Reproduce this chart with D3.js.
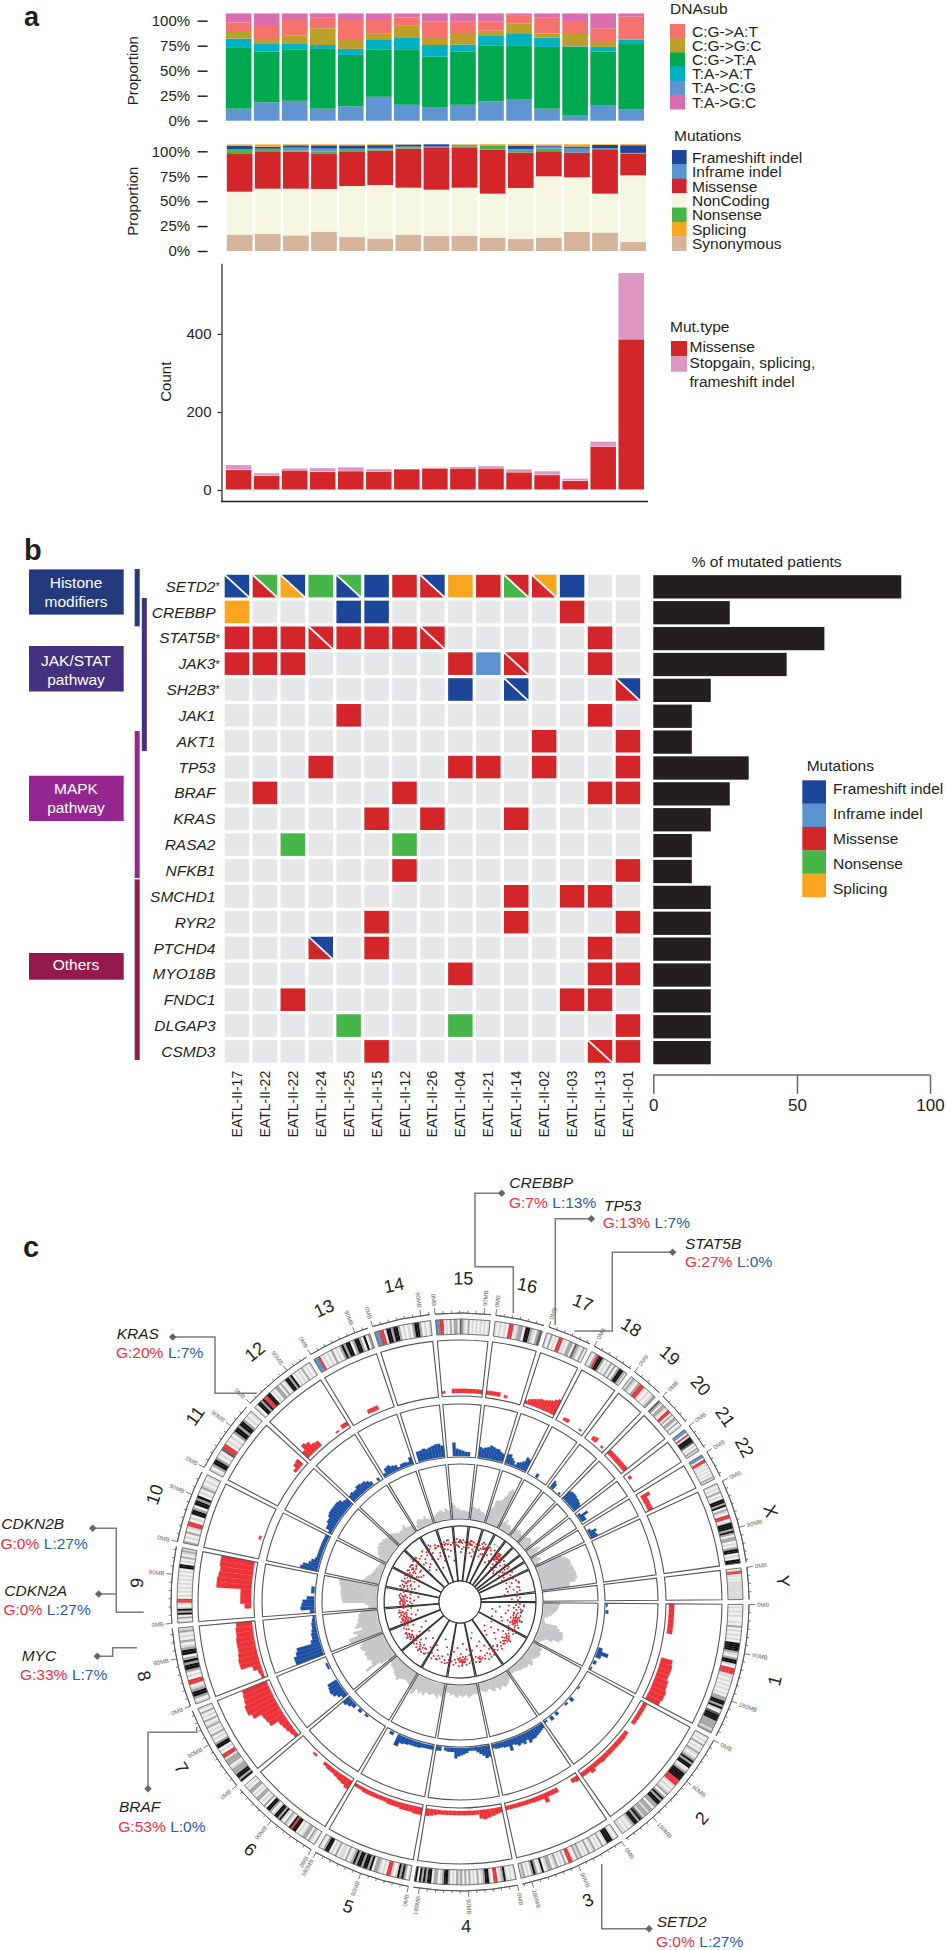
<!DOCTYPE html>
<html><head><meta charset="utf-8">
<script src="https://cdn.jsdelivr.net/npm/d3@7"></script>
<style>html,body{margin:0;padding:0;background:#fff}svg{display:block;font-family:"Liberation Sans",Arial,sans-serif}</style>
</head><body><div id="c"></div>
<script>
const _ = null;
// ---------- panel a ----------
const samples = d3.range(15);
const dnaLabels = ["C:G->A:T","C:G->G:C","C:G->T:A","T:A->A:T","T:A->C:G","T:A->G:C"];
const dnaTA_CG = [12,18.3,19.9,12,14.3,23.9,15.9,13.6,15.9,19.3,21.6,12,5.6,15,11.6];
const dnaCG_TA = [60.8,50.8,51.5,59.8,51.5,47.5,54.9,50.5,53.2,56.1,53.2,61.8,68.2,54.1,65.1];
const dnaTA_AT = [9.3,7.6,5.3,3.9,6,9.3,11.9,11.6,7,9.3,11.9,9.3,.6,4.7,4];
const dnaCG_GC = [6.6,5,8.3,16.7,8.9,6.7,12.3,8,10.6,5.3,10.3,4.3,13.3,5.9,.7];
const dnaCG_AT = [9.6,14,15.7,10.6,20,14.3,8.3,15.3,12.3,9,8.6,15.6,12,12.7,22.6];
const dnaTA_GC = [9,11.6,6.6,4.3,6.6,5.6,4,8.3,8.3,8.3,1.7,4.3,7.6,14.9,3.3];
const dnaColors = ["#f6736d","#bda02c","#00a84f","#00b1c1","#6195d2","#da6fb0"];

const mutLabels = ["Frameshift indel","Inframe indel","Missense","NonCoding","Nonsense","Splicing","Synonymous"];
const mutSyn = [16.4,17.1,15.7,19.4,14,12.4,16.4,15,15.4,13.4,12,13.4,19.1,18.4,9];
const mutNon = [43.1,45.4,46.8,42.8,51.2,53.8,47.1,46.5,48.1,44.1,51.2,61.5,54.8,39.1,66.9];
const mutMis = [37.8,36.8,37.2,35.8,34.1,34.5,39.2,41.8,39.8,44.2,35.5,24.4,24.8,43.8,21.8];
const mutNons = [4,2,1.3,1.7,2,1,1,1,1.7,4,1.7,3.3,0,1,.7];
const mutInf = [1,1.3,2.7,3,1.3,1.7,1,.7,.3,.7,2,2,4.7,1,0];
const mutFs = [3.3,2,2.3,3.3,3.3,2.7,2,2,.7,0,3,1,1.3,3,7.7];
const mutSpl = [1.3,2.3,1,1,1,1,.3,0,1,.7,1.7,1.3,2.3,.7,1];
const mutColors = ["#1c469a","#5b93cf","#d2262b","#f5f6df","#47b649","#f9a51f","#d4b59b"];

const countMissense = [51,36,50,46,48,47,53,55,55,55,45,38,23,111,386];
const countStop = [13,7,5,10,10,6,1,2,4,6,8,10,6,13,170];

// ---------- panel b ----------
const patients = ["EATL-II-17","EATL-II-22","EATL-II-22","EATL-II-24","EATL-II-25","EATL-II-15","EATL-II-12","EATL-II-26","EATL-II-04","EATL-II-21","EATL-II-14","EATL-II-02","EATL-II-03","EATL-II-13","EATL-II-01"];
const genes = ["SETD2","CREBBP","STAT5B","JAK3","SH2B3","JAK1","AKT1","TP53","BRAF","KRAS","RASA2","NFKB1","SMCHD1","RYR2","PTCHD4","MYO18B","FNDC1","DLGAP3","CSMD3"];
const starred = ["SETD2","STAT5B","JAK3","SH2B3"];
const matrix = [
 "FF MN SF N FN F M MF S M NM MS F . .",
 "S . . . F F . . . . . . M . .",
 "M M M MM M M M MM . . . . . M .",
 "M M M . . . . . M I MM . . M .",
 ". . . . . . . . F . FF . . . MF",
 ". . . . M . . . . . . . . M .",
 ". . . . . . . . . . . M . . M",
 ". . . M . . . . M M . M . . M",
 ". M . . . . M . . . . . . M M",
 ". . . . . M . M . . M . . . .",
 ". . N . . . N . . . . . . . .",
 ". . . . . . M . . . . . . . M",
 ". . . . . . . . . . M . M M .",
 ". . . . . M . . . . M . . . M",
 ". . . MF . M . . . . . . . M .",
 ". . . . . . . . M . . . . M M",
 ". . M . . . . . . . . . M M .",
 ". . . . N . . . N . . . . . M",
 ". . . . . M . . . . . . . MM M"];
const pctMutated = [89.2,26.6,60.3,46.4,20,13.4,13.4,33.2,26.6,20,13.4,13.4,20,20,20,20,20,20,20];
const pctTicks = [0,50,100];
const oncoLegend = ["Frameshift indel","Inframe indel","Missense","Nonsense","Splicing"];
const oncoKeys = ["F","I","M","N","S"];
const oncoColors = ["#1c469a","#5b93cf","#d2262b","#47b649","#f9a51f"];
const pathways = [["Histone","modifiers"],["JAK/STAT","pathway"],["MAPK","pathway"],["Others"]];
const pathwayColors = ["#243a7d","#43317f","#93278f","#931b4b"];

// ---------- panel c ----------
const chrNames = ["1","2","3","4","5","6","7","8","9","10","11","12","13","14","15","16","17","18","19","20","21","22","X","Y"];
const chrMb = [249,243,198,191,181,171,159,146,141,135,135,133,115,107,102,90,81,78,59,63,48,51,155,59];
const ideograms = [
 ".l.l.l..l.g.l.l.l.kkkkgl.gkkl.rrrll.l.l.l.l.ggkkgkl.dkkkgggglg",
 "l.l.g.l.gl.lgkgkk.lgkkkkrrrl.l.lg.gkgkkgg.gglggldkgkkgl.l.ll",
 "l.lkkkl.g.l.gl.g.l.glg.lrr.g.l.gl.ggl.kl.gkg.l.gl",
 "l.l.lkgl.rr.lkkgl.g.l.g.g.glg.l.gkkgl.gg.kkgkgk.k",
 "l.gkgkl.lrr.l.lgg.kgkkgkkgkgl.g.ll.g.l.kkg.l",
 "l.lg.ggl.l.kkrk.lg.lkgkkl.gkk.g.l.gg.l.gg.l.",
 "kgkkgggl.ggg.rr.l.kkg.l.g.l.gl.g.l.g.l",
 "l.gkkgl.rr.l.gkkgkg.kkgl.g.l.gl",
 "l.g.kgkl.lrr.l.l.l.l.l.l.l.kk.l.g.lgl",
 "g.l.g.lrr.l.kkg.kkgk.l.gl.l.l",
 "l.gkkg.l.drr.l.l.gkkgkkg.l.l",
 "l.kkgkrrkk.l.gg.g.lkkgk.l.l.g.l.l",
 "bbr.l.l.g.l.gkgkk.gkkg.k.g",
 "bbrr.kkgkkg.l.l.gkkg.l.l",
 "bbrr.l.g.gg.dgl.g.l.l.l.l.l",
 "l.l.l.rr.lgg.kkgl.gd",
 "l.g.l.rr.l.gg.dgl.g.",
 "l.grkkg.l.g.g.gkkgl",
 "lgl.grrl.l.lg",
 "dg.ggl.rr.g.gg.g.l",
 "bb.r.kkkd.l.gl",
 "bb.rr.l.l.l.l.gl",
 "l.l.g.l.kkgk.gl.rr.lkkkgkg.gg.l.gkk.l.kk",
 ".lrr.l.l.lllllllllllll"];
const redTrack = [
 [10,10,10,10,10,10,_,_,_,_,_,22,24,24,23,26,27,30,30,28],
 [8,8,8,8,8,_,_,8,9,9,9,9,9,9,10,9,9,14,9,9],
 [10,8,_,_,_,_,9,9,9,18,9,9,9,8,8,8,8,8,8,8],
 [10,12,14,16,18,16,8,8,8,8,8,8,8,8,8,8,8,10,12,14],
 [14,14,12,12,12,10,10,10,8,8,8,8,8,8,6,6],
 [18,14,12,10,8,8,6,_,_,4,_,_,_,_],
 [8,10,12,14,16,32,34,36,52,58,58,54,52,50],
 [6,8,16,38,38,36,34,34,34,32,32,30],
 [_,_,12,20,20,20,66,66,64,62,64,64],
 [_,_,_,_,_,4,_,_,_,_,_,_,_,_],
 [_,_,_,_,_,_,_,_,_,_,6,12,14,_],
 [16,26,22,14,12,_,_,_,_,_,3,_,8,8],
 [_,_,_,_,_,8,8,8,_,_,_,_],
 [_,_,_,_,_,_,_,_,_,_],
 [5,_,_,8,8,8,8,8,8,8,8,8],
 [8,8,8,8,_,5,_,_,_,_],
 [6,10,12,14,16,18,18,20,22,24,28,32],
 [_,_,6,7,_,_,_,_,3,_],
 [_,_,8,10,_,_,4,_],
 [10,10,10,10,10,10,10,10],
 [_,6,_,_,_,_],
 [_,18,10,10,10,10],
 [_],[_]];
const blueTrack = [
 [3,_,5,_,_,_,_,_,_,_,_,_,_,8,22,10,_,6,_,3],
 [_,_,_,_,_,2,_,_,_,8,_,4,_,_,_,6,_,8,_,4],
 [10,12,14,16,18,18,22,14,20,16,18,14,12,22,12,12,10,10,10,8],
 [22,24,18,14,10,6,6,6,10,12,14,16,20,8,8,8,6,_,8,8],
 [8,8,8,10,10,10,12,14,22,_,6,_],
 [_,_,_,_,_,4,_,6,_,8,12,16],
 [10,16,22,24,22,20,_,_,_,_,4,4,_,_],
 [56,56,50,46,16,12,12,10,8,8,6,4],
 [8,26,24,22,14,_,6,6,_,_,_,_],
 [34,30,20,16,10,8,8,8,8,8,8,8,8,8],
 [6,14,14,18,18,22,24,24,24,24,24,22,16,14],
 [14,16,14,14,18,18,16,16,12,8,_,_,6,_],
 [6,14,16,12,10,4,8,8,6,14],
 [_,20,20,22,20,22,24,26,26,22],
 [_,_,26,14,12,10,8,8,_,_],
 [20,18,20,22,26,24,22,22,18,16],
 [18,20,14,10,4,10,12,16,26,24],
 [_,_,_,8,_,_,_,_],
 [_,16,12,_,_,_,4,_],
 [20,22,22,22,20,20,18,16],
 [_,6,20,10,10,_],
 [_,_,6,16,12,14],
 [_],[_]];
const greyTrack = [
 [30,28,26,24,20,16,10,4,4,6,30,36,44,46,46,42,30,16,12,8],
 [16,20,18,22,22,20,18,14,20,22,16,18,16,14,14,12,10,8,8,8],
 [10,14,18,20,22,22,18,20,24,18,16,22,20,16,14,16,18,16,14,12],
 [18,18,16,18,20,22,20,16,18,20,18,16,22,20,16,16,18,14,14,12],
 [24,22,20,28,24,20,22,24,26,24,22,30,28,24,30,26,24,34,38,30],
 [24,22,20,22,24,30,26,24,20,18,18,14],
 [14,30,60,44,40,44,46,44,46,42,46,48,44,40],
 [60,62,44,50,32,44,40,36,36,34,34,30],
 [14,14,20,62,64,64,66,66,66,68,70,72],
 [30,26,24,22,18,16,14,14,12,12,10,10,8,8],
 [14,16,20,22,24,28,26,30,28,26,28,26,24,24],
 [26,24,20,18,16,14,16,14,18,22,14,14,12,12],
 [_,8,14,16,14,12,16,10,8,8],
 [8,12,14,16,18,16,14,20,16,14],
 [28,24,18,18,14,14,14,14,12,12],
 [22,22,20,20,22,18,16,16,14,10],
 [26,30,44,46,46,50,58,70,76,72],
 [12,14,20,12,14,14,10,8],
 [14,16,14,18,16,14,12,10],
 [14,16,18,20,20,18,14,10],
 [8,14,20,24,16,8],
 [6,10,14,14,8,6],
 [50,56,60,62,62,62,64,64,66,66,66,62,50,50],
 [_]];
// rainfall points: [degrees clockwise from east, distance level]
const dotsRed = [[2,60],[3,56],[4,64],[5,59],[6,54],[7,61],[8,57],[9,62],[10,49],[11,59],[12,55],[13,62],[14,47],[15,58],[16,60],[17,53],[18,63],[19,56],[20,59],[21,51],[22,62],[23,57],[24,46],[25,60],[26,54],[27,61],[7,40],[15,37],[20,44],[24,35],[4,49],[12,33],[17,62],[18,58],[19,60],[21,56],[22,54],[16,56],[14,55],
[29,60],[30,56],[31,62],[33,58],[34,52],[35,60],[36,47],[37,58],[38,62],[40,55],[41,59],[42,46],[43,61],[45,57],[46,51],[47,60],[48,63],[50,58],[51,42],[52,61],[53,55],[54,59],[32,37],[39,40],[44,34],[49,38],
[56,59],[57,63],[58,55],[60,60],[61,50],[62,58],[63,64],[64,44],[65,59],[66,62],[67,53],[68,60],[69,47],[70,58],[71,63],[72,59],[73,38],[74,57],[75,62],[76,50],[77,59],
[79,60],[80,54],[81,62],[82,48],[83,58],[84,63],[85,60],[86,42],[87,55],[88,62],[89,52],[90,60],[91,64],[92,57],[93,46],[94,61],[95,58],[96,63],[97,50],[98,60],[84,55],[90,56],[86,60],[88,58],
[101,59],[102,62],[103,54],[105,60],[106,47],[107,63],[108,57],[110,60],[111,40],[112,58],[113,62],[115,53],[116,60],[117,63],[118,49],[119,58],
[122,60],[123,54],[124,62],[126,58],[127,45],[128,63],[129,59],[130,56],[131,62],[132,60],[133,50],[134,63],[135,57],[136,60],[137,42],[138,62],[139,58],[127,58],[130,62],[133,58],[136,54],
[141,60],[142,55],[143,62],[144,50],[145,58],[146,63],[147,46],[148,60],[149,56],[150,62],[151,39],[152,58],[153,60],[154,52],[155,62],[156,57],[157,60],
[159,60],[160,52],[161,62],[162,57],[163,60],[164,46],[165,58],[166,62],[167,55],[168,60],[169,43],[170,58],[171,53],[172,61],[173,49],[174,57],[160,56],[162,52],[164,56],[166,50],[161,58],[163,54],
[176,58],[177,52],[178,60],[179,55],[180,50],[181,59],[182,46],[183,56],[184,60],[185,53],[186,58],[187,42],[188,60],[189,50],[190,57],[178,48],[181,53],[184,50],[187,55],
[193,60],[194,54],[195,58],[196,47],[197,60],[198,52],[199,57],[200,60],[201,44],[202,56],[203,60],[204,50],[205,58],[206,55],[195,50],[199,52],[203,54],
[208,60],[209,55],[210,58],[211,48],[212,60],[213,53],[214,58],[215,61],[216,45],[217,55],[218,60],[219,50],[220,57],[221,62],[210,50],[213,46],[217,50],[219,56],
[224,58],[225,62],[226,52],[227,59],[229,46],[230,60],[231,55],[233,63],[234,40],[235,57],[236,60],[237,51],[229,52],[226,44],[232,48],
[240,61],[241,56],[242,63],[243,48],[245,59],[246,62],[248,53],[249,60],[250,44],[251,58],[244,38],[247,50],
[253,60],[254,55],[255,62],[256,47],[258,59],[259,63],[260,52],[261,58],[262,42],[263,60],[257,54],
[266,60],[267,63],[268,56],[269,60],[270,62],[271,50],[272,59],[273,62],[274,55],[275,60],[269,55],[272,53],[267,57],
[278,60],[279,55],[280,62],[281,50],[282,58],[283,61],[284,47],[285,57],[286,60],[281,58],[283,54],[279,60],[285,52],
[289,60],[290,55],[291,62],[292,49],[293,58],[294,63],[295,53],[296,60],[291,57],[293,52],
[299,62],[300,54],[301,60],[302,47],[303,57],[304,62],[305,50],
[308,60],[309,54],[310,62],[311,57],[312,46],[313,60],[309,58],[311,62],[310,56],[312,54],[311,50],
[315,56],[316,50],[317,60],[318,54],[319,44],[320,58],[321,48],[317,46],
[323,50],[324,55],[325,58],[326,47],[327,53],[325,52],[324,60],
[329,55],[330,60],[331,50],[332,57],[333,47],[334,54],
[336,58],[338,50],[339,60],[340,55],[342,62],[343,52],[345,59],[346,61],[347,55],[348,49],[350,58],[351,45],[344,48],
[354,57],[356,60],[357,52],[358,58],
// denser clumps seen in the picture
[16,58],[17,56],[18,60],[19,58],[20,61],[20,56],[21,59],[22,58],[23,60],[15,61],[13,58],[11,55],
[36,58],[37,61],[38,59],[39,57],[40,60],[35,56],[42,58],[44,60],
[70,61],[71,60],[85,57],[86,58],[87,60],[88,60],[89,59],[91,58],
[143,58],[144,60],[145,61],[146,58],[147,60],[142,59],[148,62],
[161,55],[162,60],[163,57],[164,60],[165,55],[166,58],[167,60],[168,57],[169,55],[170,60],[159,56],[160,59],
[180,57],[181,56],[182,58],[183,59],[178,57],[177,56],[185,57],[186,55],
[196,58],[197,55],[200,58],[201,56],[208,57],[209,58],[212,55],[214,55],[215,57],[216,58],
[246,59],[248,60],[255,59],[256,60],[269,60],[271,60],[279,58],[280,59],[293,60],[294,58],[295,59],[296,58],[297,57],
[308,57],[309,55],[310,58],[311,60],[312,57],[313,58],[309,62],[310,60]];
const dotsBlue = [[10,62],[29,64],[49,57],[8,63],[18,65],[24,64],[38,64],[60,63],[72,63],[88,64],[104,63],[120,62],[131,64],[140,62],[150,63],[163,60],[170,62],[180,60],[186,61],[195,62],[206,61],[217,61],[222,63],[241,65],[258,63],[270,61],[281,62],[292,64],[314,65],[322,61],[341,62],[349,61],[3,64],[125,63],[146,64],[112,62],[200,62],[211,61]];
const dotsOrange = [[259,60],[298,63],[304,67],[221,65],[234,64],[60,64]];
const dotsGreen = [[69,33],[1,58],[40,62],[301,67],[225,63]];
// gene annotations around the circle
const annotGene = ["KRAS","CDKN2B","CDKN2A","MYC","BRAF","SETD2","CREBBP","TP53","STAT5B"];
const annotGain = ["G:20%","G:0%","G:0%","G:33%","G:53%","G:0%","G:7%","G:13%","G:27%"];
const annotLoss = ["L:7%","L:27%","L:27%","L:7%","L:0%","L:27%","L:13%","L:7%","L:0%"];

// ================== drawing ==================
const svg = d3.select("#c").append("svg").attr("width",946).attr("height",1950).attr("viewBox","0 0 946 1950");
svg.append("rect").attr("width",946).attr("height",1950).attr("fill","#fff");
const INK="#231f20";
function txt(g,x,y,s,o={}){const t=g.append("text").attr("x",x).attr("y",y).attr("dy","0.36em").attr("fill",o.fill||INK)
  .attr("font-size",o.size||15.5).attr("text-anchor",o.anchor||"start").text(s);
  if(o.italic)t.attr("font-style","italic"); if(o.bold)t.attr("font-weight","bold"); if(o.rot!=null)t.attr("transform",`rotate(${o.rot} ${x} ${y})`); return t;}
txt(svg,24,16,"a",{size:27,bold:true});txt(svg,24,550,"b",{size:29,bold:true});txt(svg,23,1247,"c",{size:29,bold:true});

function stackedPanel(seriesBottomUp,colorsBottomUp,y0,y100,x0,x1){
  const rows=samples.map(i=>seriesBottomUp.map(s=>s[i]));
  const st=d3.stack().keys(d3.range(seriesBottomUp.length))(rows);
  const y=d3.scaleLinear([0,100],[y0,y100]);
  const x=d3.scaleBand().domain(samples).range([x0,x1]).paddingInner(0.085);
  const g=svg.append("g");
  st.forEach((lay,k)=>g.selectAll(null).data(lay).join("rect").attr("x",(d,i)=>x(i)).attr("width",x.bandwidth())
    .attr("y",d=>y(d[1])).attr("height",d=>Math.max(0,y(d[0])-y(d[1]))).attr("fill",colorsBottomUp[k]));
  const ax=svg.append("g").attr("transform","translate(207.6,0)").call(d3.axisLeft(y).tickValues([0,25,50,75,100]).tickFormat(d=>d+"%").tickSize(10).tickPadding(7.5));
  ax.select(".domain").remove();ax.selectAll("line").attr("stroke",INK).attr("stroke-width",1.5);
  ax.selectAll("text").attr("font-size",15).attr("fill",INK).attr("font-family","Liberation Sans");
  txt(svg,133,(y0+y100)/2,"Proportion",{size:15,anchor:"middle",rot:-90});
}
stackedPanel([dnaTA_CG,dnaCG_TA,dnaTA_AT,dnaCG_GC,dnaCG_AT,dnaTA_GC],[dnaColors[4],dnaColors[2],dnaColors[3],dnaColors[1],dnaColors[0],dnaColors[5]],120.7,20.7,225.8,644);
stackedPanel([mutSyn,mutNon,mutMis,mutNons,mutInf,mutFs,mutSpl],[mutColors[6],mutColors[3],mutColors[2],mutColors[4],mutColors[1],mutColors[0],mutColors[5]],251,151.3,226.8,646);

function legend(title,tx,ty,labels,colors,sx,sw,sy,sh,lx){
  txt(svg,tx,ty,title,{size:15.5});
  labels.forEach((l,i)=>{svg.append("rect").attr("x",sx).attr("y",sy+i*sh).attr("width",sw).attr("height",sh+.3).attr("fill",colors[i]);
    txt(svg,lx,sy+(i+.5)*sh,l,{size:15.5});});
}
legend("DNAsub",670,8,dnaLabels,dnaColors,670,15,24,14.2,692);
legend("Mutations",674,135,mutLabels,mutColors,672,14.6,150,14.38,692);

// count panel
{const y=d3.scaleLinear([-29.7,581],[501.6,263.3]);
 const x=d3.scaleBand().domain(samples).range([225.8,644]).paddingInner(0.09);
 const rows=samples.map(i=>[countMissense[i],countStop[i]]);
 const st=d3.stack().keys([0,1])(rows);
 st.forEach((lay,k)=>svg.append("g").selectAll("rect").data(lay).join("rect").attr("x",(d,i)=>x(i)).attr("width",x.bandwidth())
   .attr("y",d=>y(d[1])).attr("height",d=>y(d[0])-y(d[1])-.5).attr("fill",k?"#db96c4":"#d2262b"));
 const ax=svg.append("g").attr("transform","translate(221.5,0)").call(d3.axisLeft(y).tickValues([0,200,400]).tickSize(4).tickSizeOuter(0).tickPadding(6));
 ax.select(".domain").attr("stroke",INK).attr("stroke-width",1.2);ax.selectAll("line").attr("stroke",INK).attr("stroke-width",1.2);
 ax.selectAll("text").attr("font-size",15).attr("fill",INK).attr("font-family","Liberation Sans");
 svg.append("line").attr("x1",221).attr("x2",648).attr("y1",501.6).attr("y2",501.6).attr("stroke",INK).attr("stroke-width",1.5);
 txt(svg,166,381.7,"Count",{size:15,anchor:"middle",rot:-90});
 txt(svg,670,326.7,"Mut.type");
 svg.append("rect").attr("x",671).attr("y",341).attr("width",16).attr("height",15.4).attr("fill","#d2262b");
 svg.append("rect").attr("x",671).attr("y",356.4).attr("width",16).attr("height",15.3).attr("fill","#db96c4");
 txt(svg,689.5,346.7,"Missense");txt(svg,689.5,362.7,"Stopgain, splicing,");txt(svg,689.5,381.7,"frameshift indel");
}

// oncoprint
{const x=d3.scaleBand().domain(samples).range([224.7,640.2]).paddingInner(.123);
 const y=d3.scaleBand().domain(genes).range([574.8,1062.7]).paddingInner(.126);
 const col=Object.fromEntries(oncoKeys.map((k,i)=>[k,oncoColors[i]]));col["."]="#e6e7e8";
 const w=x.bandwidth(),h=y.bandwidth();
 matrix.forEach((row,ri)=>{const cells=row.split(" ");const gy=y(genes[ri]);
   cells.forEach((c,ci)=>{const cx=x(ci);
     if(c.length===1){svg.append("rect").attr("x",cx).attr("y",gy).attr("width",w).attr("height",h).attr("fill",col[c]);}
     else{const pts=a=>a.map(p=>p.join(",")).join(" ");
       svg.append("polygon").attr("points",pts([[cx,gy],[cx,gy+h],[cx+w,gy+h]])).attr("fill",col[c[0]]);
       svg.append("polygon").attr("points",pts([[cx,gy],[cx+w,gy],[cx+w,gy+h]])).attr("fill",col[c[1]]);
       svg.append("line").attr("x1",cx).attr("y1",gy).attr("x2",cx+w).attr("y2",gy+h).attr("stroke","#fff").attr("stroke-width",1.8);}
   });
   txt(svg,215.5,gy+h/2,genes[ri],{anchor:"end",italic:true});
   if(starred.includes(genes[ri]))svg.append("text").attr("x",215.5).attr("y",gy+h/2+4).attr("font-size",11).attr("fill",INK).text("*");
 });
 patients.forEach((p,i)=>{const cx=x(i)+w/2;svg.append("text").attr("transform",`translate(${cx},1070.8) rotate(-90)`).attr("text-anchor","end").attr("dy","0.36em").attr("font-size",14).attr("fill",INK).text(p);});
 // percent bars
 const px=d3.scaleLinear([0,50,100],[653.3,797,930]);
 const by=d3.scaleBand().domain(genes).range([575.2,1064.3]).paddingInner(.1);
 svg.append("g").selectAll("rect").data(genes).join("rect").attr("x",px(0)).attr("y",g=>by(g)).attr("height",by.bandwidth())
   .attr("width",(g,i)=>px(pctMutated[i])-px(0)).attr("fill","#231f20");
 const ax=svg.append("g").attr("transform","translate(0,1075)").call(d3.axisBottom(px).tickValues(pctTicks).tickSize(18.8).tickSizeOuter(18.8).tickPadding(5));
 ax.select(".domain").attr("stroke","#666").attr("stroke-width",1.5).attr("d","M653.3,0H930");
 ax.selectAll("line").attr("stroke","#666").attr("stroke-width",1.5);
 ax.selectAll("text").attr("font-size",17).attr("fill",INK).attr("font-family","Liberation Sans");
 txt(svg,691.7,561.8,"% of mutated patients");
 txt(svg,806.7,765.8,"Mutations");
 oncoLegend.forEach((l,i)=>{svg.append("rect").attr("x",802.3).attr("y",780.3+i*23.34).attr("width",23.7).attr("height",23.6).attr("fill",oncoColors[i]);
   txt(svg,833,788+i*25,l);});
 // pathway boxes and brackets
 const boxY=[[569.4,45.2],[646,45.5],[775.7,45.3],[953,26.7]];
 const lineY=[[582.8,601],[660,679],[788,807.5],[964.7]];
 pathways.forEach((p,i)=>{svg.append("rect").attr("x",29).attr("y",boxY[i][0]).attr("width",94.7).attr("height",boxY[i][1]).attr("fill",pathwayColors[i]);
   p.forEach((s,j)=>txt(svg,76,lineY[i][j],s,{fill:"#fff",anchor:"middle"}));});
 const br=[[134.7,569,626.4],[141.8,598,751],[134.7,731,878],[134.7,879.4,1060]];
 br.forEach((b,i)=>svg.append("rect").attr("x",b[0]).attr("y",b[1]).attr("width",5).attr("height",b[2]-b[1]).attr("fill",pathwayColors[i]));
}

// ================== circos ==================
const CX=460,CY=1602;
const gC=svg.append("g").attr("transform",`translate(${CX},${CY})`);
const rad=d3.scaleLinear([0,360],[Math.PI/2,Math.PI/2+2*Math.PI]);
const GAP=1, mbDeg=(360-24*GAP)/d3.sum(chrMb);
let cum=GAP/2;
const chrs=chrNames.map((n,i)=>{const s=cum,e=s+chrMb[i]*mbDeg;cum=e+GAP;return {name:n,mb:chrMb[i],s,e,i,pos:d3.scaleLinear([0,chrMb[i]],[s,e]),frac:d3.scaleLinear([0,1],[s,e])};});
const arc=d3.arc();
const sector=(r0,r1,a0,a1)=>arc({innerRadius:r0,outerRadius:r1,startAngle:rad(a0),endAngle:rad(a1)});
const polar=(a,r)=>{const t=(a)*Math.PI/180;return [r*Math.cos(t),r*Math.sin(t)];};

const tracks=[
 {data:redTrack,color:"#ee3338",r:d3.scaleLinear([0,100],[209,262]),r0:206,r1:262},
 {data:blueTrack,color:"#1b50a5",r:d3.scaleLinear([0,100],[146,198]),r0:145,r1:198},
 {data:greyTrack,color:"#c4c5c7",r:d3.scaleLinear([0,100],[84,138]),r0:83,r1:138}];
tracks.forEach(t=>{
  chrs.forEach((c,ci)=>{const bins=t.data[ci],n=bins.length;
    bins.forEach((v,b)=>{if(v==null)return;
      gC.append("path").attr("d",sector(t.r(0),t.r(v),c.frac(b/n),c.frac((b+1)/n))).attr("fill",t.color).attr("stroke",t.color).attr("stroke-width",.25);});
  });
  chrs.forEach(c=>gC.append("path").attr("d",sector(t.r0,t.r1,c.s,c.e)).attr("fill","none").attr("stroke","#555").attr("stroke-width",1.1));
});
// rainfall track
chrs.forEach(c=>gC.append("path").attr("d",sector(21,76,c.s,c.e)).attr("fill","none").attr("stroke","#333").attr("stroke-width",1.25));
const dotLayer=(arr,color)=>gC.append("g").selectAll("circle").data(arr).join("circle")
  .attr("cx",d=>polar(d[0],d[1])[0]).attr("cy",d=>polar(d[0],d[1])[1]).attr("r",1).attr("fill",color);
dotLayer(dotsBlue,"#1b50a5");dotLayer(dotsOrange,"#e3b23c");dotLayer(dotsGreen,"#47b649");dotLayer(dotsRed,"#d8262e");
gC.append("circle").attr("r",21).attr("fill","#fff").attr("stroke","#333").attr("stroke-width",1);

// ideogram
const bandColor={".":"#f1f1f1","l":"#d8d8d8","g":"#a4a4a4","d":"#5f5f5f","k":"#111","r":"#e8333a","b":"#5c8fbd"};
chrs.forEach((c,ci)=>{const s=ideograms[ci],n=s.length;
  [...s].forEach((ch,b)=>gC.append("path").attr("d",sector(268,283,c.frac(b/n),c.frac((b+1)/n))).attr("fill",bandColor[ch]).attr("stroke",bandColor[ch]).attr("stroke-width",.2));
  gC.append("path").attr("d",sector(268,283,c.s,c.e)).attr("fill","none").attr("stroke","#666").attr("stroke-width",.9);
  // axis
  gC.append("path").attr("d",sector(289,289,c.s,c.e)).attr("fill","none").attr("stroke","#555").attr("stroke-width",.9);
  d3.range(0,c.mb,15).forEach(mb=>{const major=mb%90===0,a=c.pos(mb),p0=polar(a,289),p1=polar(a,major?295:291.5);
    gC.append("line").attr("x1",p0[0]).attr("y1",p0[1]).attr("x2",p1[0]).attr("y2",p1[1]).attr("stroke","#555").attr("stroke-width",.8);
    if(major){const p=polar(a,297),nd=((a%360)+360)%360,left=nd>90&&nd<270;
      gC.append("text").attr("transform",`translate(${p[0]},${p[1]}) rotate(${left?a+180:a})`).attr("text-anchor",left?"end":"start").attr("dy","0.35em").attr("font-size",6).attr("fill","#666").text(mb+"MB");}
  });
  // chromosome name
  const mid=(c.s+c.e)/2,p=polar(mid,324),rot=mid<180?mid-90:mid-270;
  gC.append("text").attr("transform",`translate(${p[0]},${p[1]}) rotate(${rot})`).attr("text-anchor","middle").attr("dy","0.36em").attr("font-size",18).attr("fill",INK).text(c.name);
});

// annotations
const leaderPaths=[
 [[172.7,1337],[215,1337],[215,1393.3],[256.7,1393.3]],
 [[92.7,1528.3],[116.3,1528.3],[116.3,1612.3],[143.7,1612.3]],
 [[98.7,1594],[116.3,1594]],
 [[97.3,1656.3],[112.7,1656.3],[112.7,1647.7],[137,1647.7]],
 [[148,1788.7],[148,1732.3],[196.7,1732.3],[196.7,1726.7]],
 [[649,1928.7],[601.7,1928.7],[601.7,1864]],
 [[501.7,1193.3],[475,1193.3],[475,1266.7],[513.3,1266.7],[513.3,1313.3]],
 [[591.3,1218.7],[555.3,1218.7],[555.3,1325]],
 [[672.7,1252.3],[612.3,1252.3],[612.3,1331],[574.3,1331]]];
const annotPos=[[116.7,1333,116,1352.7],[1.3,1523,0.5,1543],[4.3,1590,3.5,1609],[21.7,1655,20,1674],[119,1806,118.3,1826],[656.7,1921.7,656,1941.7],[509.3,1182.7,509,1202.7],[604,1205,602.7,1222.7],[685,1243.3,685,1261.3]];
const lineGen=d3.line();
annotGene.forEach((g,i)=>{
  svg.append("path").attr("d",lineGen(leaderPaths[i])).attr("fill","none").attr("stroke","#7a7a7a").attr("stroke-width",1.5);
  const d=leaderPaths[i][0];
  svg.append("path").attr("d",d3.symbol(d3.symbolSquare,28)()).attr("transform",`translate(${d[0]},${d[1]}) rotate(45)`).attr("fill","#666");
  const [tx,ty,gx,gy]=annotPos[i];
  txt(svg,tx,ty,g,{italic:true});
  const t=svg.append("text").attr("x",gx).attr("y",gy).attr("dy","0.36em").attr("font-size",15.5);
  t.append("tspan").attr("fill","#e8333a").text(annotGain[i]);
  t.append("tspan").attr("fill","#2a5ca8").attr("dx",4.5).text(annotLoss[i]);
});
</script></body></html>
